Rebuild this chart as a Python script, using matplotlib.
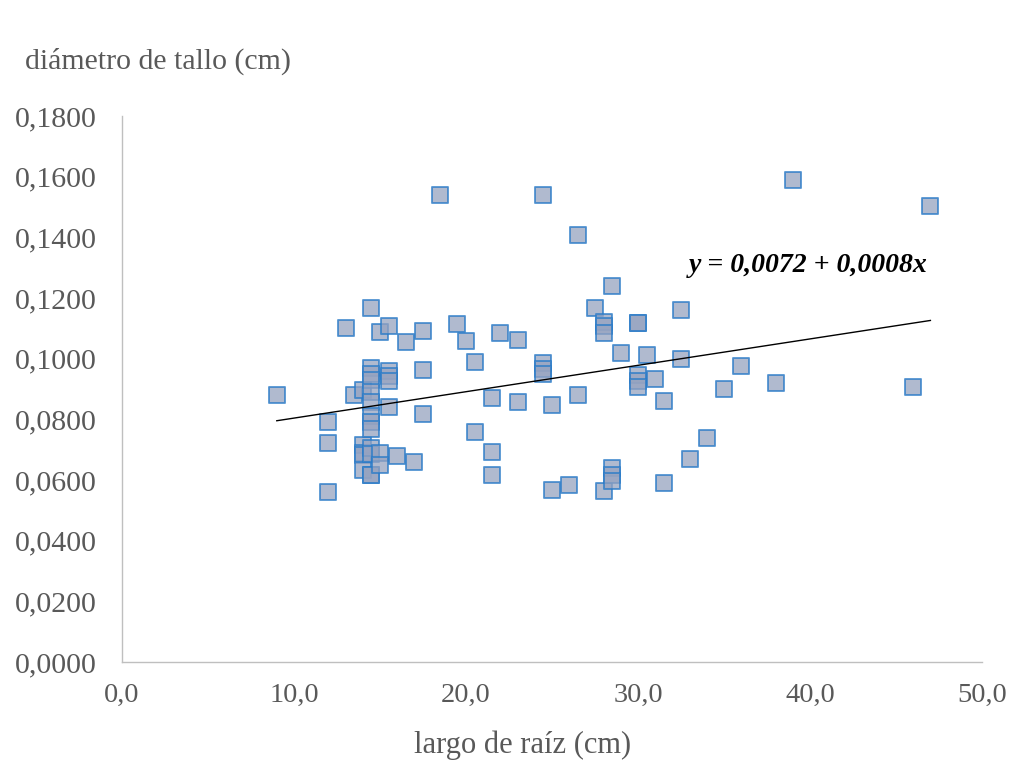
import matplotlib
matplotlib.use("Agg")
import matplotlib.pyplot as plt
from matplotlib.ticker import FuncFormatter

# largo de raiz (cm) vs diametro de tallo (cm)
largo = [9.0,
         12.0, 12.0, 12.0,
         13.0, 13.5,
         14.0, 14.0, 14.0, 14.0, 14.0,
         14.5, 14.5, 14.5, 14.5, 14.5, 14.5, 14.5, 14.5, 14.5, 14.5, 14.5, 14.5, 14.5,
         15.0, 15.0, 15.0,
         15.5, 15.5, 15.5, 15.5, 15.5,
         16.0, 16.5, 17.0,
         17.5, 17.5, 17.5,
         18.5, 19.5, 20.0,
         20.5, 20.5,
         21.5, 21.5, 21.5,
         22.0, 23.0, 23.0,
         24.5, 24.5, 24.5, 24.5,
         25.0, 25.0, 26.0,
         26.5, 26.5, 27.5,
         28.0, 28.0, 28.0, 28.0,
         28.5, 28.5, 28.5, 28.5,
         29.0,
         30.0, 30.0, 30.0, 30.0, 30.0,
         30.5, 31.0, 31.5, 31.5,
         32.5, 32.5, 33.0, 34.0, 35.0, 36.0, 38.0, 39.0, 46.0, 47.0]
diametro = [0.0880,
            0.0790, 0.0723, 0.0560,
            0.1100, 0.0880,
            0.0895, 0.0716, 0.0690, 0.0682, 0.0633,
            0.1167, 0.0968, 0.0950, 0.0930, 0.0890, 0.0858, 0.0810, 0.0790, 0.0767, 0.0705, 0.0686, 0.0617, 0.0615,
            0.1089, 0.0690, 0.0650,
            0.1109, 0.0960, 0.0943, 0.0925, 0.0842,
            0.0680, 0.1054, 0.0660,
            0.1092, 0.0961, 0.0818,
            0.1540, 0.1113, 0.1058,
            0.0990, 0.0757,
            0.0869, 0.0693, 0.0615,
            0.1084, 0.1062, 0.0856,
            0.1540, 0.0985, 0.0966, 0.0950,
            0.0846, 0.0567, 0.0584,
            0.1408, 0.0880, 0.1168,
            0.1122, 0.1106, 0.1084, 0.0565,
            0.1240, 0.0640, 0.0617, 0.0595,
            0.1020,
            0.1119, 0.1119, 0.0946, 0.0926, 0.0908,
            0.1012, 0.0933, 0.0862, 0.0589,
            0.1160, 0.1000, 0.0668, 0.0737, 0.0900, 0.0977, 0.0919, 0.1589, 0.0906, 0.1504]

# trend line as drawn in the picture (the printed equation is kept as text)
trend_a = 0.0717
trend_b = 0.00087
equation = "y = 0,0072 + 0,0008x"

plt.rcParams['font.family'] = ['Liberation Serif', 'DejaVu Serif']

fig = plt.figure(figsize=(10.19, 7.81), dpi=100)
ax = fig.add_axes([0.1197, 0.1524, 0.8440, 0.6991])

ax.scatter(largo, diametro, marker='s', s=125, facecolor='#96A3C0', alpha=0.75,
           edgecolor='#2A7BC8', linewidth=1.4, zorder=3)

x0, x1 = min(largo), max(largo)
ax.plot([x0, x1], [trend_a + trend_b * x0, trend_a + trend_b * x1],
        color='black', linewidth=1.0, zorder=4)

ax.text(39.9, 0.1306, equation, fontsize=20, fontweight='bold', fontstyle='italic',
        ha='center', va='center', color='black')

ax.set_xlim(0, 50)
ax.set_ylim(0, 0.18)
ax.set_xticks([0, 10, 20, 30, 40, 50])
ax.set_yticks([i * 0.02 for i in range(10)])
ax.xaxis.set_major_formatter(FuncFormatter(lambda v, p: f"{v:.1f}".replace('.', ',')))
ax.yaxis.set_major_formatter(FuncFormatter(lambda v, p: f"{v:.4f}".replace('.', ',')))
ax.tick_params(length=0, labelcolor='#595959')
ax.tick_params(axis='y', pad=18, labelsize=21.5)
ax.tick_params(axis='x', pad=15, labelsize=20.5)

for side in ['top', 'right']:
    ax.spines[side].set_visible(False)
for side in ['left', 'bottom']:
    ax.spines[side].set_color('#BFBFBF')
    ax.spines[side].set_linewidth(1.0)

fig.text(25 / 1019, 1 - 61 / 781, "diámetro de tallo (cm)", fontsize=21.5,
         color='#595959', ha='left', va='center')
fig.text(523 / 1019, 1 - 745 / 781, "largo de raíz (cm)", fontsize=22,
         color='#595959', ha='center', va='center')

fig.savefig("out.png", dpi=100)
